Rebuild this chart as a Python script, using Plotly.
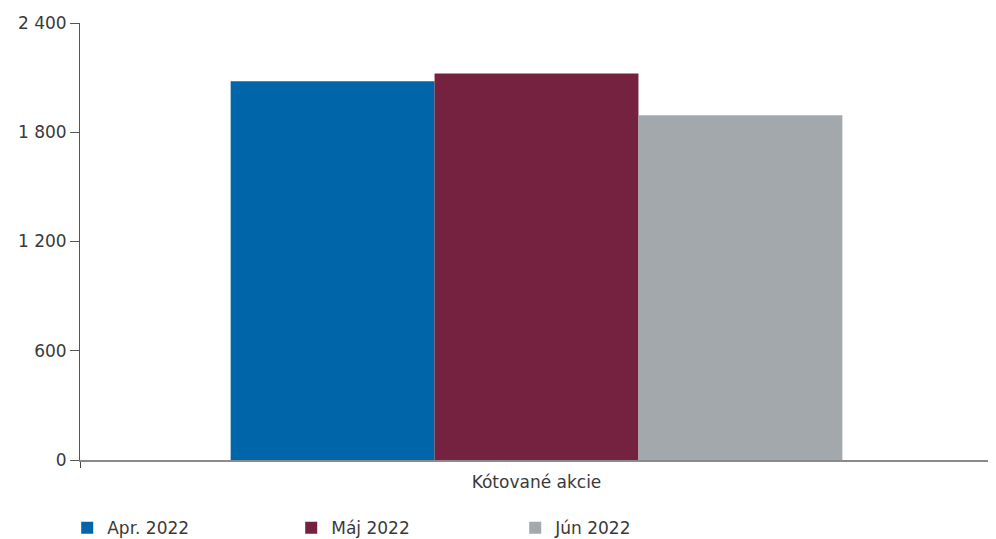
import plotly.graph_objects as go

# data
categories = ["Kótované akcie"]
series_names = ["Apr. 2022", "Máj 2022", "Jún 2022"]
series_values = [[2080], [2122], [1893]]
series_colors = ["#0066A9", "#74223F", "#A2A8AB"]
y_ticks = [0, 600, 1200, 1800, 2400]

FONT = "DejaVu Sans"
TXT = "#3a3a3a"

fig = go.Figure()
for name, vals, col in zip(series_names, series_values, series_colors):
    fig.add_trace(go.Bar(
        x=categories, y=vals, name=name,
        marker=dict(color=col, line=dict(width=0)),
    ))

# page body has an 8px margin, so the margins below are shifted by 8px
fig.update_layout(
    width=996, height=539,
    barmode="group", bargap=0.33, bargroupgap=0,
    separators=", ",
    plot_bgcolor="white", paper_bgcolor="white",
    margin=dict(l=72, r=11, t=15, b=87, autoexpand=False),
    font=dict(family=FONT, size=17, color=TXT),
    legend=dict(
        orientation="h", x=-0.014, xanchor="left",
        y=-0.156, yanchor="middle",
        entrywidth=179, entrywidthmode="pixels",
        font=dict(size=17, color=TXT),
        traceorder="normal",
    ),
)

fig.update_xaxes(
    showline=True, linecolor="#8a8a8a", linewidth=2,
    ticks="outside", tickson="boundaries", ticklen=6, tickcolor="#444444",
    showgrid=False, automargin=False, ticklabelstandoff=6,
    tickfont=dict(size=17, color=TXT),
)
fig.update_yaxes(
    range=[0, 2400], tickvals=y_ticks, tickformat=",d",
    showline=True, linecolor="#555555", linewidth=1,
    ticks="outside", ticklen=9, tickcolor="#555555",
    showgrid=False, zeroline=False, automargin=False,
    tickfont=dict(size=17, color=TXT),
)

fig.write_html("out.html")
